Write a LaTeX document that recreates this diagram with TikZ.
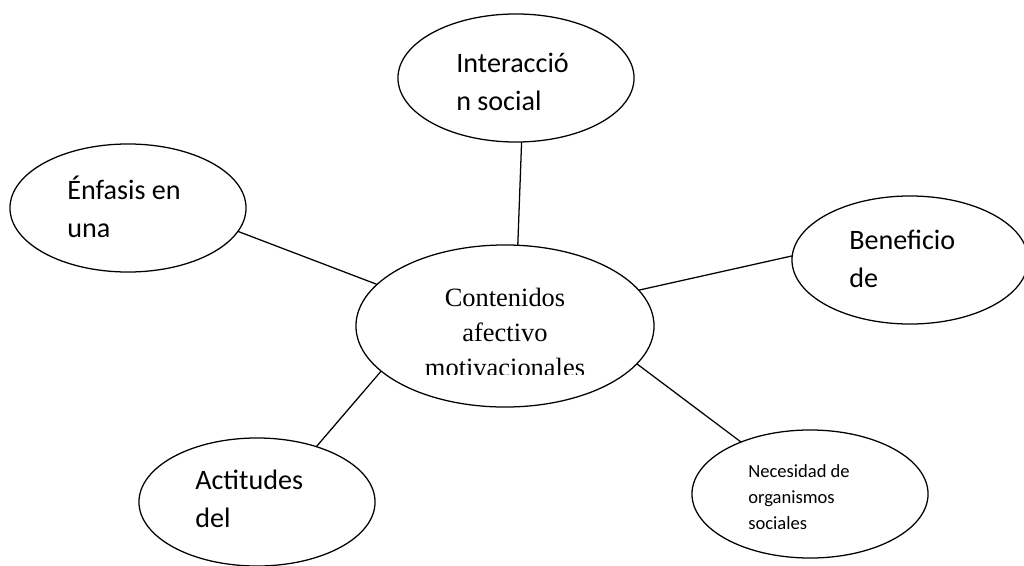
\documentclass[tikz,border=0pt]{standalone}
\usepackage{fontspec}
\setmainfont{Liberation Serif}
\newfontfamily\calibri{Carlito}
\usetikzlibrary{shapes.geometric}

\begin{document}
\begin{tikzpicture}[x=0.025cm, y=-0.025cm,
	burbuja/.style={draw, ellipse, line width=0.9pt, inner sep=0pt, outer sep=0pt,
		minimum width=5.9cm, minimum height=3.2cm},
	centro/.style={burbuja, minimum width=7.45cm, minimum height=4.05cm},
	texto/.style={anchor=base west, align=left, inner sep=0pt,
		font=\calibri\fontsize{20}{27}\selectfont},
	textochico/.style={texto, font=\calibri\fontsize{13.2}{18.4}\selectfont},
	enlace/.style={line width=0.9pt}]
	\useasboundingbox (0,0) rectangle (1024,565);
	%\draw[help lines] (0,0) grid[step=50] (1024,565);
	\node[centro] (cont) at (505,326) {};
	\node[burbuja] (inter) at (516,78) {};
	\node[burbuja] (enfa) at (128,208) {};
	\node[burbuja] (bene) at (910,260) {};
	\node[burbuja] (acti) at (257,502) {};
	\node[burbuja] (nece) at (810,494) {};

	\begin{scope}
		\clip (300,240) rectangle (710,374.5);
		\node[align=center, anchor=base, inner sep=0pt, font=\fontsize{18.8}{24.8}\selectfont]
			(tcont) at (505,376) {Contenidos\\afectivo\\motivacionales};
	\end{scope}
	\node[texto] (tinter) at (456,110) {Interacció\\n social};
	\node[texto] (tenfa) at (67,237) {Énfasis en\\una};
	\node[texto] (tbene) at (849,287) {Beneficio\\de};
	\node[texto] (tacti) at (195,527) {Actitudes\\del};
	\node[textochico] (tnece) at (748,529) {Necesidad de\\organismos\\sociales};

	\draw[enlace] (cont.81.6) -- (inter.275.4);
	\draw[enlace] (cont.162.2) -- (enfa.-12.3);
	\draw[enlace] (cont.15.3) -- (bene.178.5);
	\draw[enlace] (cont.200.1) -- (acti.43.3);
	\draw[enlace] (cont.-16.5) -- (nece.143.6);
\end{tikzpicture}
\end{document}
